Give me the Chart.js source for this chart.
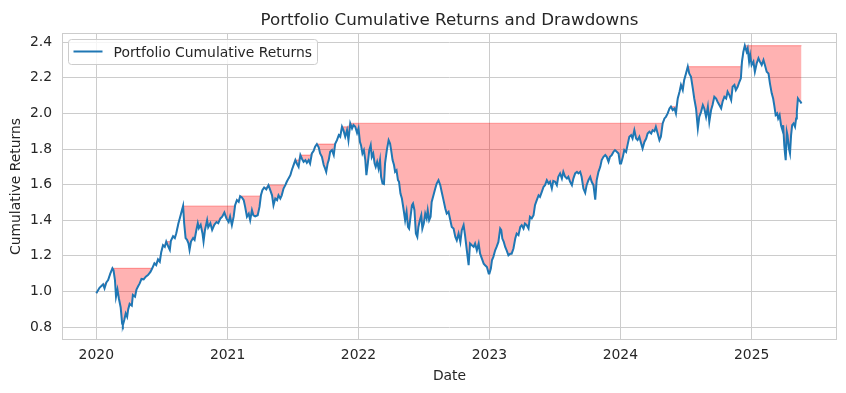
<!DOCTYPE html>
<html>
<head>
<meta charset="utf-8">
<title>Portfolio Cumulative Returns and Drawdowns</title>
<script src="https://cdn.jsdelivr.net/npm/chart.js@4.4.1/dist/chart.umd.min.js"></script>
<style>
  html, body { margin: 0; padding: 0; background: #ffffff; }
  #chart { display: block; }
</style>
</head>
<body>
<canvas id="chart" width="846" height="393"></canvas>
<script>
// Days since 2020-01-01 and the cumulative return on that day
const days = [
    0, 9, 19, 23, 28, 33, 39, 45, 48, 52, 55, 59, 63, 68, 72, 74, 78, 82, 86, 89,
    93, 99, 102, 108, 112, 117, 121, 126, 132, 138, 144, 151, 156, 162, 167, 172, 177, 181, 186, 191,
    195, 201, 205, 208, 214, 219, 223, 229, 234, 238, 242, 245, 249, 253, 257, 260, 264, 270, 274, 279,
    283, 286, 291, 296, 299, 303, 309, 312, 318, 323, 329, 335, 340, 346, 351, 357, 363,
    369, 373, 378, 383, 387, 392, 397, 401, 406, 411, 415, 420, 425, 429, 434, 438, 443, 450, 455,
    459, 463, 468, 474, 480, 485, 490, 494, 499, 504, 508, 513, 517, 522, 527, 531, 536, 541, 545, 550,
    555, 559, 564, 569, 573, 578, 583, 587, 592, 596, 601, 606, 610, 615, 620, 624, 629, 634, 638, 641,
    645, 648, 652, 657, 662, 666, 671, 676, 680, 685, 689, 694, 699, 703, 708, 713, 717, 722, 727, 731,
    735, 738, 742, 746, 750, 753, 757, 761, 765, 768, 772, 776, 779, 783, 787, 791, 794, 798, 802, 805,
    810, 815, 819, 822, 826, 830, 833, 837, 841, 844, 848, 852, 857, 861, 865, 869, 872, 876, 880, 883,
    887, 891, 895, 898, 902, 906, 909, 913, 917, 921, 924, 928, 932, 935, 940, 945, 949, 954, 959, 963,
    968, 973, 977, 982, 987, 991, 996, 1001, 1005, 1010, 1015, 1019, 1024, 1028, 1033, 1038, 1042, 1047, 1052, 1056,
    1061, 1066, 1070, 1075, 1080, 1084, 1089, 1094,
    1096, 1100, 1103, 1107, 1112, 1116, 1121, 1126, 1129, 1132, 1136, 1140, 1144, 1149, 1154, 1158, 1163, 1168, 1172, 1177,
    1182, 1186, 1191, 1195, 1200, 1205, 1209, 1214, 1219, 1223, 1228, 1233, 1237, 1242, 1247, 1251, 1256, 1261, 1265, 1270,
    1274, 1279, 1284, 1288, 1293, 1298, 1302, 1307, 1312, 1316, 1321, 1326, 1330, 1335, 1340, 1344, 1349, 1353, 1358, 1363,
    1367, 1372, 1377, 1381, 1386, 1391, 1395, 1400, 1405, 1409, 1414, 1419, 1423, 1428, 1432, 1437, 1442, 1446, 1451, 1456,
    1460, 1463,
    1468, 1472, 1477, 1481, 1486, 1491, 1495, 1500, 1505, 1509, 1514, 1519, 1523, 1528, 1533, 1537, 1542, 1547, 1551, 1556,
    1560, 1565, 1570, 1574, 1579, 1584, 1588, 1593, 1598, 1602, 1607, 1612, 1616, 1621, 1626, 1630, 1635, 1639, 1644, 1649,
    1653, 1658, 1663, 1667, 1672, 1677, 1681, 1686, 1691, 1695, 1700, 1705, 1709, 1714, 1718, 1723, 1728, 1732, 1737, 1742,
    1746, 1751, 1756, 1760, 1765, 1770, 1774, 1779, 1783, 1788, 1793, 1797,
    1800, 1804, 1808, 1813, 1816, 1820, 1823, 1827, 1832, 1836, 1841, 1846, 1850, 1855, 1860, 1864, 1869, 1874, 1878, 1883,
    1887, 1890, 1894, 1898, 1901, 1905, 1909, 1913, 1915, 1918, 1920, 1922, 1925, 1927, 1931, 1934, 1937, 1940, 1944, 1948,
    1951, 1953, 1956, 1959, 1963, 1966
];

const cumReturns = [
    0.99, 1.02, 1.04, 1.017, 1.05, 1.064, 1.10, 1.13, 1.12, 1.064, 0.97, 1.01, 0.96, 0.91, 0.82, 0.81, 0.84, 0.876, 0.857, 0.90,
    0.93, 0.92, 0.98, 0.97, 1.01, 1.03, 1.045, 1.07, 1.068, 1.083, 1.092, 1.11, 1.13, 1.158, 1.148, 1.18, 1.167, 1.22, 1.26, 1.25,
    1.28, 1.25, 1.233, 1.285, 1.31, 1.30, 1.327, 1.383, 1.42, 1.45, 1.48, 1.383, 1.30, 1.29, 1.27, 1.233, 1.28, 1.30, 1.29, 1.345,
    1.383, 1.355, 1.374, 1.327, 1.28, 1.345, 1.40, 1.36, 1.383, 1.345, 1.374, 1.39, 1.383, 1.41, 1.42, 1.443, 1.41,
    1.39, 1.42, 1.372, 1.42, 1.484, 1.513, 1.503, 1.535, 1.528, 1.513, 1.475, 1.42, 1.437, 1.40, 1.456, 1.428, 1.422, 1.428, 1.475,
    1.54, 1.569, 1.584, 1.573, 1.597, 1.569, 1.54, 1.484, 1.522, 1.513, 1.54, 1.522, 1.54, 1.578, 1.597, 1.616, 1.635, 1.653, 1.681, 1.71,
    1.738, 1.719, 1.70, 1.766, 1.747, 1.728, 1.738, 1.723, 1.738, 1.719, 1.775, 1.79, 1.813, 1.828, 1.81, 1.775, 1.756, 1.71, 1.69, 1.672,
    1.719, 1.738, 1.785, 1.794, 1.766, 1.83, 1.85, 1.878, 1.869, 1.925, 1.906, 1.869, 1.906, 1.85, 1.944, 1.916, 1.935, 1.925, 1.89, 1.916,
    1.84, 1.822, 1.775, 1.794, 1.738, 1.653, 1.719, 1.794, 1.822, 1.756, 1.775, 1.719, 1.70, 1.728, 1.69, 1.738, 1.644, 1.606, 1.603, 1.719,
    1.794, 1.85, 1.831, 1.794, 1.738, 1.71, 1.672, 1.681, 1.625, 1.616, 1.55, 1.522, 1.456, 1.40, 1.447, 1.362, 1.353, 1.419, 1.484, 1.494,
    1.456, 1.325, 1.306, 1.362, 1.40, 1.428, 1.353, 1.381, 1.437, 1.41, 1.456, 1.40, 1.419, 1.503, 1.54, 1.578, 1.606, 1.625, 1.597, 1.559,
    1.513, 1.466, 1.437, 1.447, 1.40, 1.362, 1.353, 1.306, 1.287, 1.325, 1.278, 1.344, 1.372, 1.316, 1.231, 1.147, 1.269, 1.259, 1.25, 1.269,
    1.231, 1.269, 1.212, 1.184, 1.156, 1.147, 1.137, 1.10,
    1.10, 1.128, 1.175, 1.194, 1.231, 1.25, 1.278, 1.353, 1.344, 1.297, 1.278, 1.25, 1.231, 1.203, 1.212, 1.212, 1.241, 1.297, 1.325, 1.316,
    1.362, 1.372, 1.353, 1.381, 1.372, 1.353, 1.419, 1.41, 1.428, 1.484, 1.513, 1.54, 1.531, 1.559, 1.588, 1.597, 1.625, 1.606, 1.616, 1.578,
    1.621, 1.616, 1.597, 1.644, 1.663, 1.634, 1.672, 1.644, 1.634, 1.644, 1.616, 1.597, 1.634, 1.663, 1.672, 1.663, 1.672, 1.644, 1.578, 1.554,
    1.597, 1.625, 1.644, 1.616, 1.597, 1.516, 1.625, 1.672, 1.70, 1.738, 1.756, 1.766, 1.756, 1.728, 1.756, 1.766, 1.785, 1.794, 1.785, 1.775,
    1.719, 1.719,
    1.756, 1.794, 1.784, 1.822, 1.869, 1.878, 1.859, 1.906, 1.859, 1.85, 1.869, 1.831, 1.803, 1.84, 1.859, 1.887, 1.897, 1.887, 1.906, 1.90,
    1.925, 1.887, 1.85, 1.869, 1.944, 1.972, 1.981, 2.0, 2.028, 2.038, 2.019, 2.028, 2.0, 2.084, 2.122, 2.16, 2.131, 2.188, 2.225, 2.263,
    2.225, 2.206, 2.141, 2.084, 2.028, 1.916, 1.981, 2.009, 2.047, 2.028, 1.981, 2.038, 1.953, 2.019, 2.047, 2.094, 2.084, 2.066, 2.047, 2.028,
    2.066, 2.094, 2.084, 2.122, 2.103, 2.075, 2.15, 2.16, 2.131, 2.15, 2.178, 2.197,
    2.29, 2.347, 2.381, 2.347, 2.366, 2.291, 2.328, 2.272, 2.291, 2.234, 2.281, 2.31, 2.291, 2.272, 2.30, 2.272, 2.234, 2.225, 2.169, 2.113,
    2.084, 2.047, 1.991, 2.0, 1.972, 1.991, 1.934, 1.906, 1.934, 1.822, 1.775, 1.737, 1.897, 1.878, 1.803, 1.775, 1.878, 1.934, 1.944, 1.925,
    1.972, 2.009, 2.084, 2.075, 2.066, 2.056
];

// Axis ticks
const yearStarts = [0, 366, 731, 1096, 1461, 1827];
const yearLabels = ['2020', '2021', '2022', '2023', '2024', '2025'];
const yTicks = [0.8, 1.0, 1.2, 1.4, 1.6, 1.8, 2.0, 2.2, 2.4];
const yTickLabels = ['0.8', '1.0', '1.2', '1.4', '1.6', '1.8', '2.0', '2.2', '2.4'];

// Running peak, the upper edge of the drawdown band
const runningMax = [];
cumReturns.reduce((peak, v) => {
    const p = Math.max(peak, v);
    runningMax.push(p);
    return p;
}, -Infinity);

const TEXT = '#262626';
const GRID = '#cccccc';
const FONT = 'DejaVu Sans';

/**
 * Matplotlib-ish decorations: frame, title and in-axes legend
 */
const mplDecor = {
    id: 'mplDecor',
    afterDatasetsDraw(chart) {
        const { ctx, chartArea: a } = chart;
        ctx.save();

        // axes frame
        ctx.strokeStyle = GRID;
        ctx.lineWidth = 1;
        ctx.strokeRect(a.left + 0.5, a.top + 0.5, a.right - a.left - 1, a.bottom - a.top - 1);

        // legend box
        const bx = a.left + 6.5, by = a.top + 6.5, bw = 249, bh = 25;
        ctx.beginPath();
        ctx.roundRect(bx, by, bw, bh, 3);
        ctx.fillStyle = 'rgba(255,255,255,0.8)';
        ctx.fill();
        ctx.strokeStyle = GRID;
        ctx.stroke();

        ctx.beginPath();
        ctx.moveTo(bx + 5, by + 12);
        ctx.lineTo(bx + 34, by + 12);
        ctx.strokeStyle = '#1f77b4';
        ctx.lineWidth = 2;
        ctx.stroke();

        ctx.fillStyle = TEXT;
        ctx.font = '13.9px "' + FONT + '"';
        ctx.textAlign = 'left';
        ctx.textBaseline = 'alphabetic';
        ctx.fillText('Portfolio Cumulative Returns', bx + 45, by + 17);

        ctx.restore();
    },
    afterDraw(chart) {
        const { ctx, chartArea: a } = chart;
        ctx.save();
        ctx.fillStyle = TEXT;
        ctx.font = '16.7px "' + FONT + '"';
        ctx.textAlign = 'center';
        ctx.textBaseline = 'alphabetic';
        ctx.fillText('Portfolio Cumulative Returns and Drawdowns', (a.left + a.right) / 2, a.top - 8.5);
        ctx.restore();
    }
};

const series = days.map((d, i) => ({ x: d, y: cumReturns[i] }));
const peakSeries = days.map((d, i) => ({ x: d, y: runningMax[i] }));

new Chart(document.getElementById('chart'), {
    type: 'line',
    data: {
        datasets: [
            {
                label: 'Portfolio Cumulative Returns',
                data: series,
                borderColor: '#1f77b4',
                borderWidth: 2,
                pointRadius: 0,
                tension: 0,
                fill: false,
                order: 0
            },
            {
                label: 'Drawdown',
                data: peakSeries,
                borderColor: 'rgba(255,0,0,0.3)',
                borderWidth: 1.2,
                backgroundColor: 'rgba(255,0,0,0.3)',
                pointRadius: 0,
                tension: 0,
                fill: '-1',
                order: 1
            }
        ]
    },
    options: {
        responsive: false,
        animation: false,
        devicePixelRatio: 1,
        parsing: false,
        layout: { padding: { top: 33, right: 9, bottom: 0, left: 0 } },
        plugins: {
            legend: { display: false },
            title: { display: false },
            tooltip: { enabled: false }
        },
        scales: {
            x: {
                type: 'linear',
                min: -95.6,
                max: 2065,
                afterBuildTicks: (scale) => { scale.ticks = yearStarts.map(v => ({ value: v })); },
                afterFit: (scale) => { scale.height = 53; },
                ticks: {
                    callback: (v, i) => yearLabels[i],
                    autoSkip: false,
                    maxRotation: 0,
                    padding: 7,
                    color: TEXT,
                    font: { family: FONT, size: 13.9 }
                },
                grid: { color: GRID, lineWidth: 1, drawTicks: false },
                border: { display: false },
                title: {
                    display: true,
                    text: 'Date',
                    color: TEXT,
                    font: { family: FONT, size: 13.9 },
                    padding: { top: 0, bottom: 8 }
                }
            },
            y: {
                type: 'linear',
                min: 0.727,
                max: 2.452,
                afterBuildTicks: (scale) => { scale.ticks = yTicks.map(v => ({ value: v })); },
                afterFit: (scale) => { scale.width = 62; },
                ticks: {
                    callback: (v, i) => yTickLabels[i],
                    padding: 10,
                    color: TEXT,
                    font: { family: FONT, size: 13.9 }
                },
                grid: { color: GRID, lineWidth: 1, drawTicks: false },
                border: { display: false },
                title: {
                    display: true,
                    text: 'Cumulative Returns',
                    color: TEXT,
                    font: { family: FONT, size: 13.9 },
                    padding: { top: 8, bottom: 0 }
                }
            }
        }
    },
    plugins: [mplDecor]
});
</script>
</body>
</html>
